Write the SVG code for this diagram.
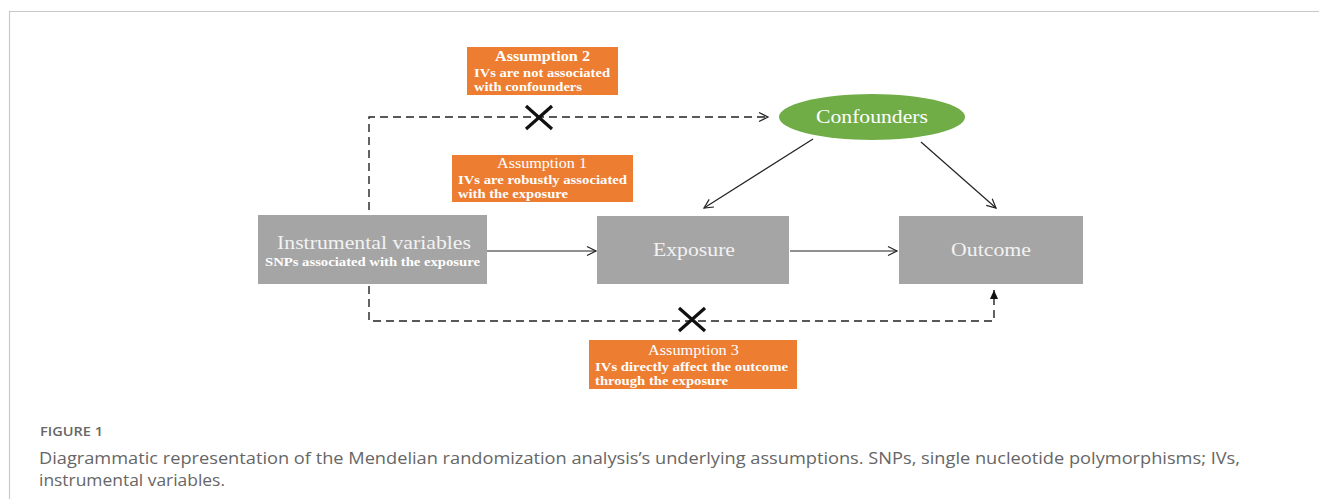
<svg xmlns="http://www.w3.org/2000/svg" width="1319" height="499" viewBox="0 0 1319 499">
<style>
.box{fill:#a5a5a5}
.ass{fill:#ed7d31}
.serif{font-family:"Liberation Serif","Times New Roman",serif;fill:#fff}
.big{font-size:19px;fill:#f2f2f2}
.title{font-size:14px}
.bold{font-size:13px;font-weight:bold}
.line{stroke:#222;stroke-width:1.2;fill:none}
.dash{stroke:#222;stroke-width:1.4;fill:none;stroke-dasharray:8 5}
.xmark{stroke:#111;stroke-width:3.2;fill:none}
.cap{font-family:"Open Sans","Liberation Sans",sans-serif;fill:#666}
</style>
<defs>
<marker id="open" markerWidth="12" markerHeight="12" refX="10" refY="6" orient="auto" markerUnits="userSpaceOnUse">
<path d="M1,1.5 L10,6 L1,10.5" fill="none" stroke="#222" stroke-width="1.2"/>
</marker>
<marker id="tri" markerWidth="10" markerHeight="10" refX="9" refY="5" orient="auto" markerUnits="userSpaceOnUse">
<path d="M0,1 L9,5 L0,9 Z" fill="#111"/>
</marker>
</defs>
<rect x="0" y="0" width="1319" height="499" fill="#fff"/>
<path d="M9.5,499 V11.5 H1319" fill="none" stroke="#c8c8c8" stroke-width="1.2"/>

<g id="connectors">
<path class="dash" d="M369,210 V117 H768" marker-end="url(#open)"/>
<path class="dash" d="M369,286 V321 H994 V290" marker-end="url(#tri)"/>
<line class="line" x1="487" y1="251" x2="596" y2="251" marker-end="url(#open)"/>
<line class="line" x1="790" y1="251" x2="897" y2="251" marker-end="url(#open)"/>
<line class="line" x1="813" y1="139" x2="704" y2="208" marker-end="url(#open)"/>
<line class="line" x1="921" y1="142" x2="996" y2="208" marker-end="url(#open)"/>
<path class="xmark" d="M526,106 L552,129 M552,106 L526,129"/>
<path class="xmark" d="M679,308 L705,331 M705,308 L679,331"/>
</g>

<g id="assumption2">
<rect class="ass" x="467" y="47" width="151" height="48"/>
<text class="serif title" x="542.5" y="61" text-anchor="middle" font-weight="bold" textLength="95" lengthAdjust="spacingAndGlyphs">Assumption 2</text>
<text class="serif bold" x="474" y="77" textLength="136" lengthAdjust="spacingAndGlyphs">IVs are not associated</text>
<text class="serif bold" x="474" y="91" textLength="108" lengthAdjust="spacingAndGlyphs">with confounders</text>
</g>

<g id="assumption1">
<rect class="ass" x="452" y="155" width="181" height="47"/>
<text class="serif title" x="542" y="168" text-anchor="middle" textLength="90" lengthAdjust="spacingAndGlyphs">Assumption 1</text>
<text class="serif bold" x="458" y="184" textLength="169" lengthAdjust="spacingAndGlyphs">IVs are robustly associated</text>
<text class="serif bold" x="458" y="198" textLength="110" lengthAdjust="spacingAndGlyphs">with the exposure</text>
</g>

<g id="assumption3">
<rect class="ass" x="589" y="340" width="208" height="49"/>
<text class="serif title" x="693.5" y="355" text-anchor="middle" textLength="91" lengthAdjust="spacingAndGlyphs">Assumption 3</text>
<text class="serif bold" x="595" y="371" textLength="193" lengthAdjust="spacingAndGlyphs">IVs directly affect the outcome</text>
<text class="serif bold" x="595" y="385" textLength="133" lengthAdjust="spacingAndGlyphs">through the exposure</text>
</g>

<g id="confounders">
<ellipse cx="872" cy="117" rx="93" ry="23" fill="#70ad47"/>
<text class="serif" x="872" y="123" font-size="18" text-anchor="middle" textLength="112" lengthAdjust="spacingAndGlyphs">Confounders</text>
</g>

<g id="instrumental">
<rect class="box" x="258" y="215" width="229" height="69"/>
<text class="serif big" x="374" y="249" text-anchor="middle" textLength="194" lengthAdjust="spacingAndGlyphs">Instrumental variables</text>
<text class="serif bold" x="372.5" y="266" text-anchor="middle" textLength="215" lengthAdjust="spacingAndGlyphs">SNPs associated with the exposure</text>
</g>

<g id="exposure">
<rect class="box" x="597" y="216" width="192" height="68"/>
<text class="serif big" x="694" y="256" text-anchor="middle" textLength="82" lengthAdjust="spacingAndGlyphs">Exposure</text>
</g>

<g id="outcome">
<rect class="box" x="899" y="216" width="184" height="68"/>
<text class="serif big" x="991" y="256" text-anchor="middle" textLength="80" lengthAdjust="spacingAndGlyphs">Outcome</text>
</g>

<g id="caption">
<text class="cap" x="40" y="436" font-size="12.5" font-weight="600" textLength="63" lengthAdjust="spacingAndGlyphs">FIGURE 1</text>
<text class="cap" x="39" y="464" font-size="17" textLength="1201" lengthAdjust="spacingAndGlyphs">Diagrammatic representation of the Mendelian randomization analysis’s underlying assumptions. SNPs, single nucleotide polymorphisms; IVs,</text>
<text class="cap" x="39" y="486" font-size="17" textLength="186" lengthAdjust="spacingAndGlyphs">instrumental variables.</text>
</g>
</svg>
